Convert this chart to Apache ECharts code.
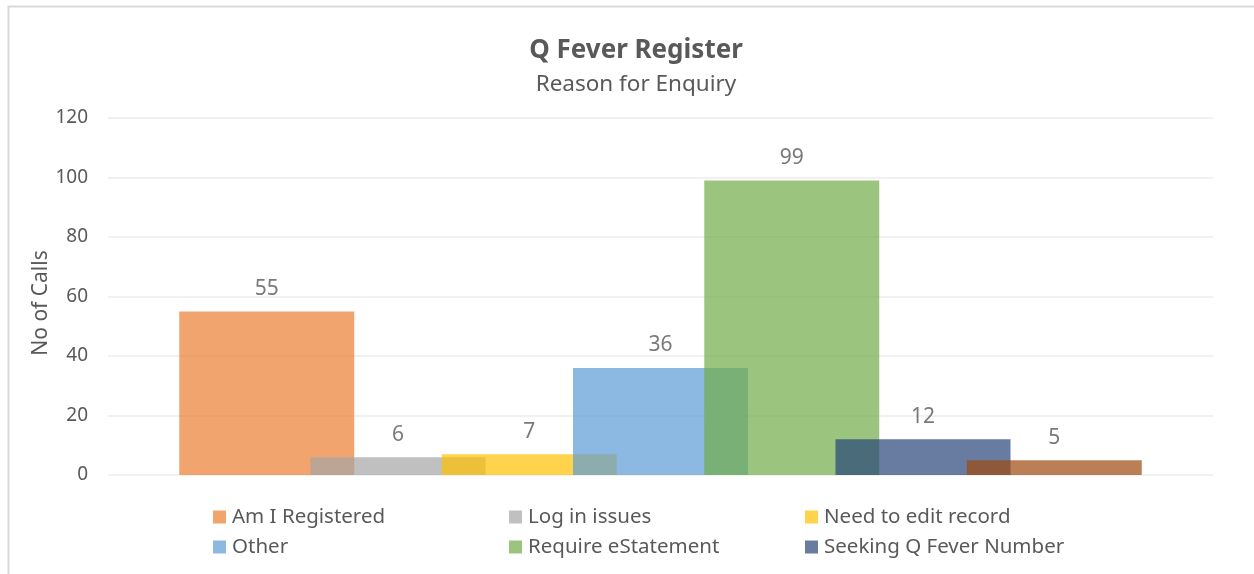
<!DOCTYPE html>
<html>
<head>
<meta charset="utf-8">
<title>Q Fever Register</title>
<script src="https://cdn.jsdelivr.net/npm/echarts@6/dist/echarts.min.js"></script>
<style>
  html, body { margin: 0; padding: 0; background: #fff; }
  #chart { width: 1254px; height: 574px; }
</style>
</head>
<body>
<div id="chart"></div>
<script>
// Datos
const reasons = ['Am I Registered', 'Log in issues', 'Need to edit record', 'Other', 'Require eStatement', 'Seeking Q Fever Number', 'Not in legend'];
const calls = [55, 6, 7, 36, 99, 12, 5];
const colors = ['#ED7D31', '#A5A5A5', '#FFC000', '#5B9BD5', '#70AD47', '#264478', '#9E480E'];
const yTicks = { min: 0, max: 120, interval: 20 };

const font = '"Noto Sans", "Open Sans", sans-serif';
const chart = echarts.init(document.getElementById('chart'));

const series = reasons.map((name, i) => ({
  name: name,
  type: 'bar',
  data: [calls[i]],
  barWidth: 175,
  barGap: '-25%',
  itemStyle: { color: colors[i], opacity: 0.7 },
  label: {
    show: true,
    position: 'top',
    distance: 12,
    color: '#404040',
    fontFamily: font,
    fontSize: 21
  }
}));

// tres columnas de leyenda, dos filas cada una
const legendCol = (names, left) => ({
  orient: 'vertical',
  left: left,
  top: 506,
  padding: 0,
  data: names,
  icon: 'rect',
  itemWidth: 13,
  itemHeight: 13,
  itemGap: 8,
  selectedMode: false,
  textStyle: { color: '#595959', fontFamily: font, fontSize: 20.5, lineHeight: 22, padding: [0, 0, 0, 1] }
});

chart.setOption({
  animation: false,
  color: colors,
  graphic: [{
    type: 'rect',
    shape: { x: 8.5, y: 6.5, width: 1300, height: 600 },
    style: { fill: 'none', stroke: '#D9D9D9', lineWidth: 2 },
    silent: true
  }, {
    // título del eje Y
    type: 'text',
    x: 41,
    y: 303,
    rotation: Math.PI / 2,
    style: {
      text: 'No of Calls',
      align: 'center',
      verticalAlign: 'middle',
      fill: '#595959',
      font: '21px ' + font
    },
    silent: true
  }],
  title: {
    text: 'Q Fever Register',
    subtext: 'Reason for Enquiry',
    left: 631,
    textAlign: 'center',
    top: 33,
    itemGap: 9,
    textStyle: { color: '#595959', fontFamily: font, fontSize: 26, fontWeight: 'bold' },
    subtextStyle: { color: '#595959', fontFamily: font, fontSize: 22.5 }
  },
  legend: [
    legendCol([reasons[0], reasons[3]], 213),
    legendCol([reasons[1], reasons[4]], 509),
    legendCol([reasons[2], reasons[5]], 805)
  ],
  grid: { left: 108, right: 41, top: 118, bottom: 99, containLabel: false },
  xAxis: {
    type: 'category',
    data: [''],
    axisLine: { show: false },
    axisTick: { show: false },
    axisLabel: { show: false }
  },
  yAxis: {
    type: 'value',
    min: yTicks.min,
    max: yTicks.max,
    interval: yTicks.interval,
    axisLabel: { color: '#595959', fontFamily: font, fontSize: 19, margin: 20 },
    axisLine: { show: false },
    axisTick: { show: false },
    splitLine: { lineStyle: { color: '#EDEDED', width: 1.5 } }
  },
  series: series
});
</script>
</body>
</html>
